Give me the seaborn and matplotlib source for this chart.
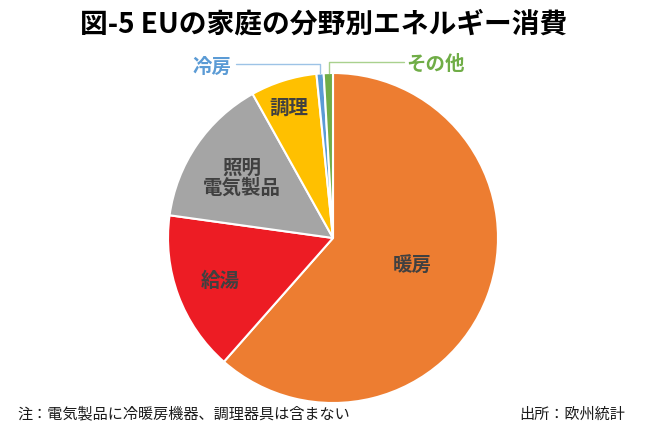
import matplotlib
matplotlib.use("Agg")
import matplotlib.pyplot as plt
import seaborn as sns

categories = ["暖房", "給湯", "照明\n電気製品", "調理", "冷房", "その他"]
values = [61.5, 15.7, 14.7, 6.5, 0.7, 0.9]
colors = ["#ED7D31", "#ED1C24", "#A5A5A5", "#FFC000", "#5B9BD5", "#70AD47"]
title = "図-5 EUの家庭の分野別エネルギー消費"
note = "注：電気製品に冷暖房機器、調理器具は含まない"
source = "出所：欧州統計"

sns.set_theme(style="white")
plt.rcParams['font.family'] = ['Noto Sans CJK JP', 'DejaVu Sans']

W, H = 650, 433
fig = plt.figure(figsize=(6.5, 4.33), dpi=100)
ax = fig.add_axes([0, 0, 1, 1])

cx, cy, r = 333, H - 238, 165
wedges, _ = ax.pie(values, colors=colors, startangle=90, counterclock=False,
                   center=(cx, cy), radius=r, frame=True,
                   wedgeprops=dict(edgecolor="white", linewidth=1.5))
ax.set_xlim(0, W)
ax.set_ylim(0, H)
ax.set_aspect('equal')
ax.axis('off')

lab_color = "#404040"
inside = {0: (412, 265), 1: (220, 281), 2: (242, 178), 3: (289, 108)}
for i, (px, py) in inside.items():
    ax.text(px, H - py, categories[i], ha='center', va='center', fontsize=14,
            fontweight='bold', color=lab_color, linespacing=1.05)

# outside labels with leader lines
ax.text(212, H - 67, categories[4], ha='center', va='center', fontsize=14,
        fontweight='bold', color="#5B9BD5")
ax.plot([236, 320, 320], [H - 64, H - 64, H - 73], color="#9DC3E6", lw=1)
ax.text(435, H - 64, categories[5], ha='center', va='center', fontsize=14,
        fontweight='bold', color="#70AD47")
ax.plot([404, 329, 329], [H - 62, H - 62, H - 73], color="#A9D18E", lw=1)

ax.text(324, H - 25, title, ha='center', va='center', fontsize=20,
        fontweight='bold', color="#000000")
ax.text(17, H - 414, note, ha='left', va='center', fontsize=10.9, color="#1a1a1a")
ax.text(519, H - 414, source, ha='left', va='center', fontsize=10.9, color="#1a1a1a")

fig.savefig("out.png", dpi=100, facecolor="white")
